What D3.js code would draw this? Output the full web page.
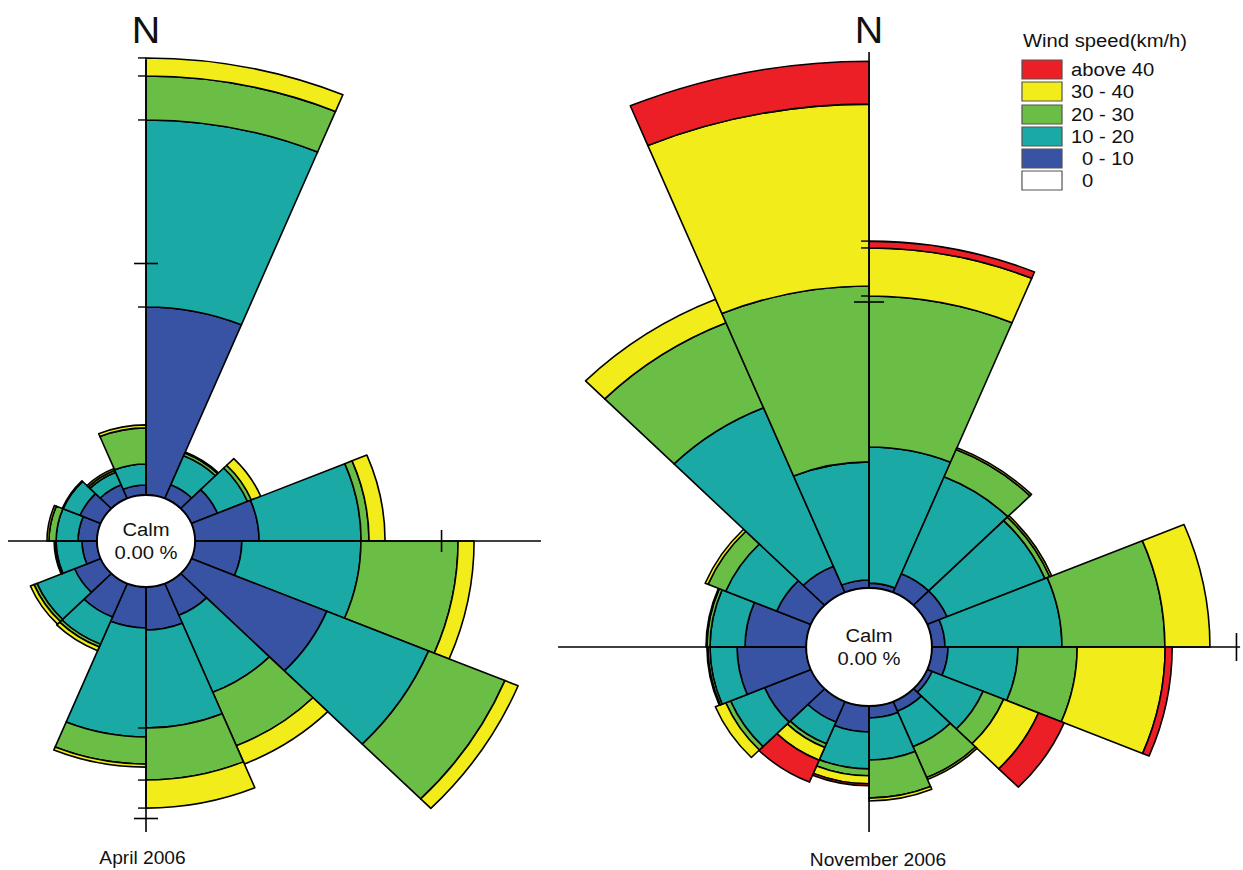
<!DOCTYPE html>
<html>
<head>
<meta charset="utf-8">
<script src="https://cdn.jsdelivr.net/npm/d3@7"></script>
<style>
  body { margin: 0; background: #fff; }
  text { font-family: "Liberation Sans", Arial, sans-serif; fill: #111; }
</style>
</head>
<body>
<script>
// Wind roses, April and November 2006

const w = 1243;
const h = 870;
const stretch = 1.065; // the source picture is a little wider than tall

// Speed classes, inner to outer
const classes = ["0 - 10", "10 - 20", "20 - 30", "30 - 40", "above 40"];
const classColors = ["#3953a4", "#1ba9a6", "#6abd45", "#f2ec1a", "#ed1f26"];

// Legend
const legendTitle = "Wind speed(km/h)";
const legendLabels = ["above 40", "30 - 40", "20 - 30", "10 - 20", "0 - 10", "0"];
const legendColors = ["#ed1f26", "#f2ec1a", "#6abd45", "#1ba9a6", "#3953a4", "#ffffff"];

// 16 sectors, clockwise from N; frequency in % per speed class
const aprBlue   = [8.12, 0.64, 1.15, 2.60, 1.90, 5.95, 1.49, 1.86, 1.77, 1.57, 1.15, 0.61, 0.77, 0.91, 0.64, 0.43];
const aprTeal   = [8.08, 1.36, 1.32, 4.14, 4.83, 4.47, 3.60, 4.23, 4.71, 1.27, 1.65, 1.05, 0.89, 0.74, 0.59, 0.91];
const aprGreen  = [1.90, 0.13, 0.17, 0.32, 3.94, 3.35, 2.50, 2.25, 1.17, 0.13, 0.13, 0.04, 0.29, 0.04, 0.09, 1.56];
const aprYellow = [0.78, 0.04, 0.41, 0.65, 0.65, 0.58, 0.85, 1.21, 0.13, 0.17, 0.16, 0.04, 0.08, 0.00, 0.08, 0.13];
const aprRed    = [0, 0, 0, 0, 0, 0, 0, 0, 0, 0, 0, 0, 0, 0, 0, 0];

const novBlue   = [0.17, 0.71, 0.71, 0.43, 0.53, 0.18, 0.37, 0.42, 0.91, 0.78, 1.65, 2.27, 2.01, 1.22, 0.99, 0.28];
const novTeal   = [4.76, 3.67, 3.48, 3.84, 2.30, 1.81, 1.34, 1.47, 1.29, 0.82, 1.21, 0.89, 1.15, 1.81, 6.00, 4.13];
const novGreen  = [5.28, 1.03, 0.17, 3.38, 1.94, 0.73, 1.17, 1.33, 0.24, 0.14, 0.17, 0.07, 0.10, 0.63, 3.22, 6.15];
const novYellow = [1.68, 0.07, 0.07, 1.48, 2.89, 1.24, 0.07, 0.10, 0.28, 0.48, 0.37, 0.03, 0.03, 0.10, 0.89, 6.36];
const novRed    = [0.24, 0, 0, 0, 0.23, 0.91, 0, 0, 0.07, 0.83, 0, 0, 0, 0, 0, 1.50];

const calmText = "0.00 %";
const tickValue = 10; // % ring marked on the axes

// Rose layouts
const roses = [
  {
    label: "April 2006", cx: 137.1, cy: 541, calmR: 46, r10: 277.5,
    series: [aprBlue, aprTeal, aprGreen, aprYellow, aprRed],
    axis: { up: 481, down: 291, left: 129.6, right: 370.9 },
    ticks: [{ dir: "N", half: 12 }, { dir: "E", half: 11 }, { dir: "S", half: 12 }],
    marks: [{ sector: 0, from: 0 }, { sector: 7, from: 1 }], labelX: 133.8, labelY: 864
  },
  {
    label: "November 2006", cx: 816, cy: 647, calmR: 59, r10: 345,
    series: [novBlue, novTeal, novGreen, novYellow, novRed],
    axis: { up: 595, down: 185, left: 292, right: 348.4 },
    ticks: [{ dir: "N", half: 15 }, { dir: "E", half: 14 }],
    marks: [{ sector: 0, from: 2 }], labelX: 824.4, labelY: 866
  }
];

const step = 2 * Math.PI / 16;

const svg = d3.select("body")
  .append("svg")
  .attr("width", w)
  .attr("height", h);

svg.append("rect").attr("width", w).attr("height", h).attr("fill", "#fff");

// everything drawn in "true" coordinates, then stretched horizontally
const root = svg.append("g").attr("transform", `scale(${stretch},1)`);

roses.forEach(rose => {
  const r = d3.scaleLinear().domain([0, tickValue]).range([rose.calmR, rose.r10]);

  // stack the classes for each direction
  const cells = [];
  d3.range(16).forEach(i => {
    let cum = 0;
    rose.series.forEach((vals, c) => {
      const v = vals[i];
      if (v > 0) cells.push({ i: i, c: c, inner: cum, outer: cum + v });
      cum += v;
    });
  });

  const arc = d3.arc()
    .innerRadius(d => r(d.inner))
    .outerRadius(d => r(d.outer))
    .startAngle(d => d.i * step)
    .endAngle(d => (d.i + 1) * step);

  const g = root.append("g")
    .attr("transform", `translate(${rose.cx},${rose.cy})`);

  g.selectAll("path.cell")
    .data(cells)
    .join("path")
    .attr("class", "cell")
    .attr("d", arc)
    .attr("fill", d => classColors[d.c])
    .attr("stroke", "#000")
    .attr("stroke-width", 1.6)
    .attr("stroke-linejoin", "round")
    .attr("vector-effect", "non-scaling-stroke");

  // axis cross
  const ax = rose.axis;
  const axisLines = [
    [0, -ax.up, 0, ax.down],
    [-ax.left, 0, ax.right, 0]
  ];
  g.selectAll("line.axis")
    .data(axisLines)
    .join("line")
    .attr("class", "axis")
    .attr("x1", d => d[0]).attr("y1", d => d[1])
    .attr("x2", d => d[2]).attr("y2", d => d[3])
    .attr("stroke", "#000")
    .attr("stroke-width", 1.6)
    .attr("vector-effect", "non-scaling-stroke");

  // 10 % ticks
  const rt = r(tickValue);
  g.selectAll("line.tick")
    .data(rose.ticks)
    .join("line")
    .attr("class", "tick")
    .attr("x1", d => d.dir === "E" ? rt : -d.half / stretch)
    .attr("x2", d => d.dir === "E" ? rt : d.half / stretch)
    .attr("y1", d => d.dir === "E" ? -d.half : (d.dir === "N" ? -rt : rt))
    .attr("y2", d => d.dir === "E" ? d.half : (d.dir === "N" ? -rt : rt))
    .attr("stroke", "#000")
    .attr("stroke-width", 1.6)
    .attr("vector-effect", "non-scaling-stroke");

  // small marks where the axis sectors' arcs meet the axis
  const marks = [];
  rose.marks.forEach(m => {
    let cum = 0;
    rose.series.forEach((vals, c) => {
      cum += vals[m.sector];
      if (vals[m.sector] > 0 && c >= m.from) {
        marks.push({ sign: m.sector === 0 ? -1 : 1, v: cum });
      }
    });
  });
  g.selectAll("line.mark")
    .data(marks)
    .join("line")
    .attr("class", "mark")
    .attr("x1", -8 / stretch).attr("x2", 0)
    .attr("y1", d => d.sign * r(d.v)).attr("y2", d => d.sign * r(d.v))
    .attr("stroke", "#000")
    .attr("stroke-width", 1.4)
    .attr("vector-effect", "non-scaling-stroke");

  // calm circle
  g.append("circle")
    .attr("r", rose.calmR)
    .attr("fill", "#fff")
    .attr("stroke", "#000")
    .attr("stroke-width", 1.8)
    .attr("vector-effect", "non-scaling-stroke");

  g.append("text")
    .attr("y", -5)
    .attr("text-anchor", "middle")
    .attr("font-size", 19)
    .text("Calm");
  g.append("text")
    .attr("y", 18)
    .attr("text-anchor", "middle")
    .attr("font-size", 19)
    .text(calmText);

  // N label
  g.append("text")
    .attr("y", -(rose.cy - 43))
    .attr("text-anchor", "middle")
    .attr("font-size", 37)
    .text("N");

  // month label
  root.append("text")
    .attr("x", rose.labelX)
    .attr("y", rose.labelY)
    .attr("text-anchor", "middle")
    .attr("font-size", 18)
    .text(rose.label);
});

// Legend
const legend = root.append("g").attr("transform", "translate(959.6,0)");
legend.append("text")
  .attr("x", 1)
  .attr("y", 47)
  .attr("font-size", 19)
  .text(legendTitle);

const boxY = [60, 82, 105, 127, 149, 171];
legend.selectAll("rect.key")
  .data(legendLabels)
  .join("rect")
  .attr("class", "key")
  .attr("x", 0)
  .attr("y", (d, i) => boxY[i])
  .attr("width", 37.6)
  .attr("height", 19)
  .attr("fill", (d, i) => legendColors[i])
  .attr("stroke", "#555")
  .attr("stroke-width", 1.2)
  .attr("vector-effect", "non-scaling-stroke");

legend.selectAll("text.key")
  .data(legendLabels)
  .join("text")
  .attr("class", "key")
  .attr("x", d => d.startsWith("0") ? 56.3 : 46)
  .attr("y", (d, i) => boxY[i] + 16)
  .attr("font-size", 19)
  .text(d => d);
</script>
</body>
</html>
